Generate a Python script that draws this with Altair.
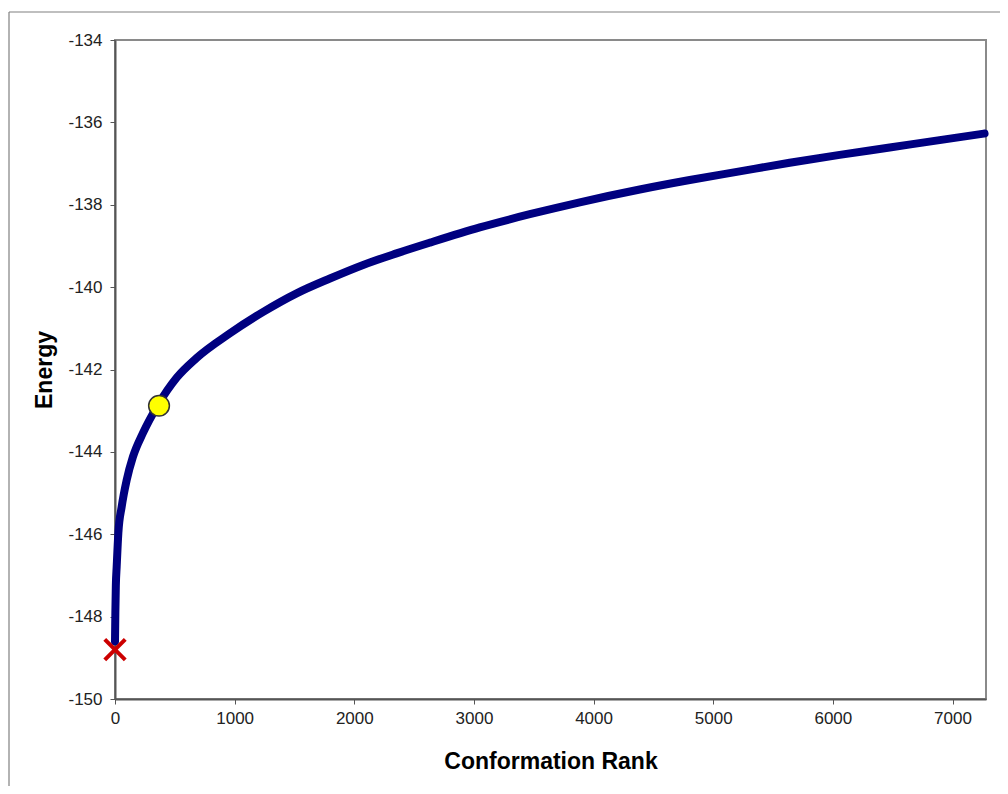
import altair as alt
import pandas as pd

rank = [0, 3, 7, 14, 28, 56, 98, 150, 234, 359, 515, 682, 961, 1239, 1518, 1796,
        2074, 2353, 2632, 3049, 3467, 3885, 4386, 4804, 5221, 5639, 6057, 6475, 6892, 7268]
energy = [-148.6, -147.9, -147.25, -146.79, -145.97, -145.33, -144.68, -144.12, -143.54,
          -142.86, -142.2, -141.72, -141.12, -140.60, -140.15, -139.79, -139.46, -139.18,
          -138.92, -138.55, -138.23, -137.94, -137.63, -137.40, -137.19, -136.98, -136.79,
          -136.61, -136.43, -136.27]

best_rank = [0]
best_energy = [-148.8]
sel_rank = [368]
sel_energy = [-142.88]

y_ticks = list(range(-150, -133, 2))
x_ticks = list(range(0, 7001, 1000))

df = pd.DataFrame({"rank": rank, "energy": energy})
df_best = pd.DataFrame({"rank": best_rank, "energy": best_energy})
df_sel = pd.DataFrame({"rank": sel_rank, "energy": sel_energy})

FONT = "Liberation Sans"

xs = alt.Scale(domain=[0, 7280], nice=False, zero=False)
ys = alt.Scale(domain=[-150, -134], nice=False, zero=False)

xax = alt.Axis(values=x_ticks, title="Conformation Rank", grid=False, labelFontSize=17,
               labelFont=FONT, labelColor="#222222", titleFont=FONT, titleFontSize=23,
               titleFontWeight="bold", titleColor="#000000", tickSize=5, tickColor="#555555",
               domainColor="#555555", domainWidth=2, labelPadding=6, titlePadding=24,
               labelFlush=False, labelExpr="datum.value + ''")
yax = alt.Axis(values=y_ticks, title="Energy", grid=False, labelFontSize=17,
               labelFont=FONT, labelColor="#222222", titleFont=FONT, titleFontSize=23,
               titleFontWeight="bold", titleColor="#000000", tickSize=5, tickColor="#555555",
               domainColor="#555555", domainWidth=2, labelPadding=8, titlePadding=11,
               labelFlush=False, labelExpr="datum.value + ''")

line = alt.Chart(df).mark_line(color="#000080", strokeWidth=8, interpolate="monotone",
                               strokeCap="round").encode(
    x=alt.X("rank:Q", scale=xs, axis=xax),
    y=alt.Y("energy:Q", scale=ys, axis=yax),
)

best = alt.Chart(df_best).mark_point(
    shape="M -1 -1 L 1 1 M -1 1 L 1 -1", filled=False, color="#CC0000",
    strokeWidth=4, size=420, opacity=1).encode(
    x=alt.X("rank:Q", scale=xs), y=alt.Y("energy:Q", scale=ys))

sel = alt.Chart(df_sel).mark_point(
    shape="circle", filled=True, fill="#FFFF00", stroke="#333333", strokeWidth=1.5,
    size=430, opacity=1).encode(
    x=alt.X("rank:Q", scale=xs), y=alt.Y("energy:Q", scale=ys))

frame_left = alt.Chart(df_best).mark_rule(color="#808080", strokeWidth=1.2).encode(
    x=alt.value(-106), y=alt.value(-28), y2=alt.value(800))
frame_top = alt.Chart(df_best).mark_rule(color="#808080", strokeWidth=1.2).encode(
    x=alt.value(-106), x2=alt.value(1000), y=alt.value(-28))

chart = alt.layer(frame_left, frame_top, line, best, sel).properties(
    width=871, height=659,
    autosize=alt.AutoSizeParams(type="none"),
    padding={"left": 107, "top": 32, "right": 14, "bottom": 87},
).configure(background="white").configure_view(stroke="#8a8a8a", strokeWidth=2)

chart.save("out.html", embed_options={"renderer": "svg", "actions": False})
